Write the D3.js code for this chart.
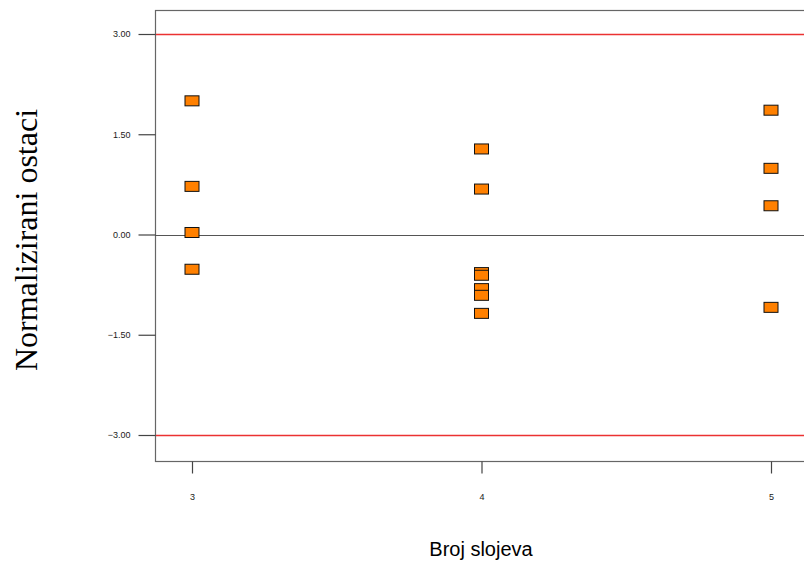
<!DOCTYPE html>
<meta charset="utf-8">
<style>
  body { margin: 0; background: #fff; }
  svg { display: block; }
</style>
<body>
<script src="https://cdn.jsdelivr.net/npm/d3@7/dist/d3.min.js"></script>
<script>

    var width = 804,
        height = 564;

    // broj slojeva i normalizirani ostaci
    var slojevi = [3, 3, 3, 3, 4, 4, 4, 4, 4, 4, 4, 5, 5, 5, 5];
    var ostaci = [2.00, 0.72, 0.03, -0.52, 1.28, 0.68, -0.57, -0.61, -0.81, -0.91, -1.18, 1.86, 0.99, 0.43, -1.09];

    var xTicks = [3, 4, 5];
    var yTicks = [-3.00, -1.50, 0.00, 1.50, 3.00];
    var granice = [3.00, -3.00];

    var plot = {left: 155, top: 10, right: 806, bottom: 461};

    var x = d3.scaleLinear().domain([3, 5]).range([192, 771]);
    var y = d3.scaleLinear().domain([-3, 3]).range([435, 34]);

    var svg = d3.select("body").append("svg")
            .attr("width", width)
            .attr("height", height);

    // okvir
    svg.append("rect")
            .attr("x", plot.left + 0.5)
            .attr("y", plot.top + 0.5)
            .attr("width", plot.right - plot.left)
            .attr("height", plot.bottom - plot.top)
            .attr("fill", "none")
            .attr("stroke", "#666")
            .attr("stroke-width", 1.2);

    // nulta linija
    svg.append("line")
            .attr("x1", plot.left)
            .attr("x2", plot.right)
            .attr("y1", Math.round(y(0)) + 0.5)
            .attr("y2", Math.round(y(0)) + 0.5)
            .attr("stroke", "#555")
            .attr("stroke-width", 1.2);

    var yAxis = svg.append("g")
            .attr("transform", "translate(" + (plot.left + 0.5) + ",0)")
            .call(d3.axisLeft(y).tickValues(yTicks).tickFormat(d3.format(".2f"))
                    .tickSize(17).tickPadding(8));

    var xAxis = svg.append("g")
            .attr("transform", "translate(0," + (plot.bottom + 0.5) + ")")
            .call(d3.axisBottom(x).tickValues(xTicks).tickFormat(d3.format("d"))
                    .tickSize(12).tickPadding(20));

    [yAxis, xAxis].forEach(function(a) {
        a.select(".domain").remove();
        a.selectAll("line").attr("stroke", "#444").attr("stroke-width", 1.2);
        a.selectAll("text")
                .attr("fill", "#1a1a1a")
                .style("font-family", "Arial, 'Liberation Sans', sans-serif")
                .style("font-size", "9px");
    });

    // crvene granice +-3
    granice.forEach(function(g) {
        svg.append("line")
                .attr("x1", plot.left + 1)
                .attr("x2", plot.right)
                .attr("y1", Math.round(y(g)) + 0.5)
                .attr("y2", Math.round(y(g)) + 0.5)
                .style("stroke", "rgb(235, 50, 50)")
                .style("stroke-width", "1.4px");
    });

    // tocke
    svg.selectAll(".tocka")
            .data(slojevi)
            .enter().append("rect")
            .attr("class", "tocka")
            .attr("x", function(d) { return x(d) - 7; })
            .attr("y", function(d, i) { return y(ostaci[i]) - 5; })
            .attr("width", 14)
            .attr("height", 10)
            .attr("fill", "#ff8000")
            .attr("stroke", "#111")
            .attr("stroke-width", 1);

    svg.append("text")
            .attr("transform", "translate(37,240) rotate(-90)")
            .attr("text-anchor", "middle")
            .style("font-family", "'Times New Roman', 'Liberation Serif', serif")
            .style("font-size", "32px")
            .attr("fill", "#000")
            .text("Normalizirani ostaci");

    svg.append("text")
            .attr("x", 481)
            .attr("y", 556)
            .attr("text-anchor", "middle")
            .style("font-family", "Arial, 'Liberation Sans', sans-serif")
            .style("font-size", "20px")
            .attr("fill", "#000")
            .text("Broj slojeva");

</script>
